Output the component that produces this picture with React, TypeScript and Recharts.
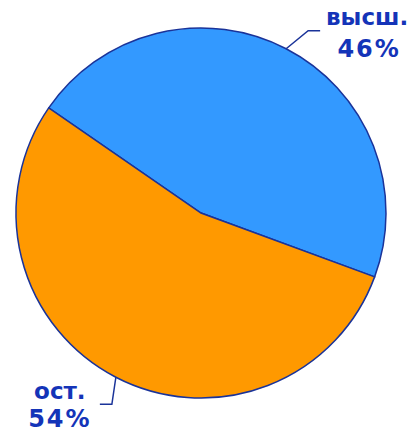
import { PieChart, Pie, Cell } from 'recharts'

const categories = ['высш.', 'ост.']
const shares = [46, 54]
const colors = ['#3399ff', '#ff9900']

const data = categories.map((name, i) => ({ name, value: shares[i] }))

const RAD = Math.PI / 180
const textColor = '#1434b8'
const font = 'DejaVu Sans'

function renderLabel(props: any) {
  const { cx, cy, midAngle, outerRadius, index, payload } = props
  const ax = cx + outerRadius * Math.cos(-midAngle * RAD)
  const ay = cy + outerRadius * Math.sin(-midAngle * RAD)
  const pct = `${payload.value}%`
  if (index === 0) {
    // upper right label
    const ex = ax + 22
    const ey = ay - 18
    return (
      <g>
        <polyline points={`${ax},${ay} ${ex},${ey} ${ex + 12},${ey}`} fill="none" stroke="#1a3399" strokeWidth={1.5} />
        <text x={ex + 59} y={ey - 6} textAnchor="middle" fill={textColor} fontSize={23} fontWeight="bold" fontFamily={font}>{payload.name}</text>
        <text x={ex + 61} y={ey + 26} textAnchor="middle" fill={textColor} fontSize={24} fontWeight="bold" fontFamily={font} letterSpacing={2}>{pct}</text>
      </g>
    )
  }
  const ex = ax - 4
  const ey = ay + 27
  return (
    <g>
      <polyline points={`${ax},${ay} ${ex},${ey} ${ex - 12},${ey}`} fill="none" stroke="#1a3399" strokeWidth={1.5} />
      <text x={ex - 52} y={ey - 5} textAnchor="middle" fill={textColor} fontSize={23} fontWeight="bold" fontFamily={font}>{payload.name}</text>
      <text x={ex - 52} y={ey + 23} textAnchor="middle" fill={textColor} fontSize={24} fontWeight="bold" fontFamily={font} letterSpacing={2}>{pct}</text>
    </g>
  )
}

export default function App() {
  return (
    <div style={{ position: 'absolute', left: 0, top: 0, width: 417, height: 433, background: '#fff' }}>
      <PieChart width={417} height={433} margin={{ top: 0, right: 0, bottom: 0, left: 0 }}>
        <Pie
          data={data}
          dataKey="value"
          cx={201}
          cy={213}
          outerRadius={185}
          startAngle={-20.2}
          endAngle={339.8}
          stroke="#1a3399"
          strokeWidth={1.5}
          label={renderLabel}
          labelLine={false}
          isAnimationActive={false}
        >
          {data.map((d, i) => (
            <Cell key={d.name} fill={colors[i]} />
          ))}
        </Pie>
      </PieChart>
    </div>
  )
}
